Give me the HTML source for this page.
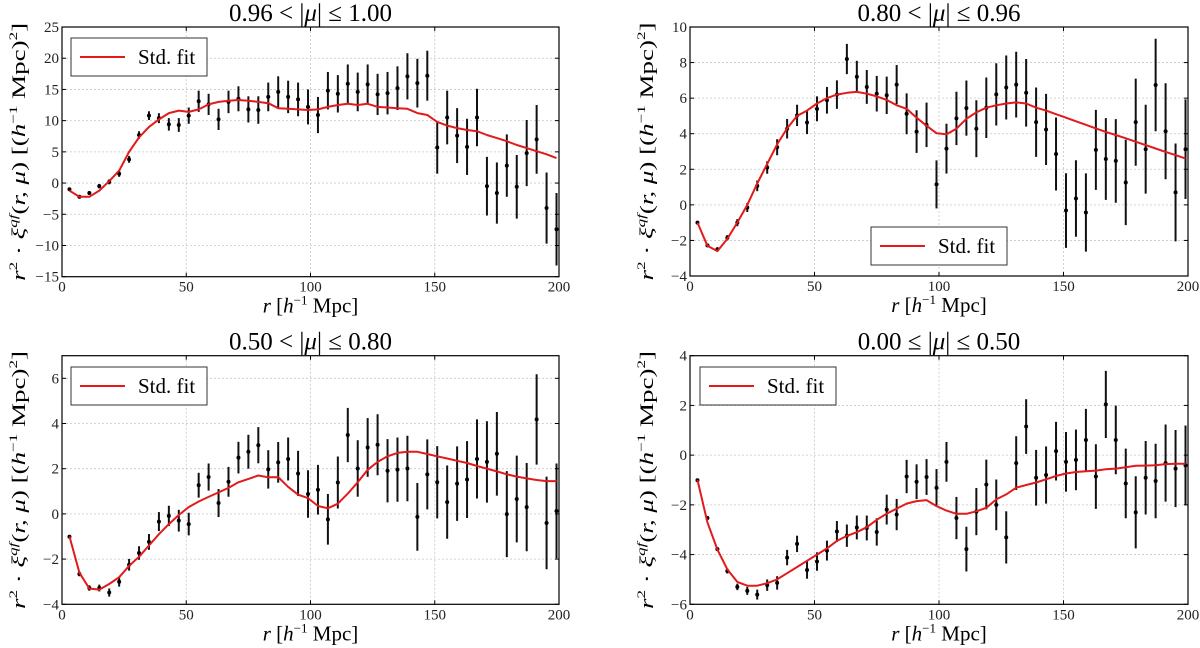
<!DOCTYPE html>
<html><head><meta charset="utf-8"><style>
html,body{margin:0;padding:0;background:#fff;}
svg{display:block;font-family:"Liberation Serif",serif;}
</style></head><body>
<svg id="fig" width="1200" height="648" viewBox="0 0 1200 648" xmlns="http://www.w3.org/2000/svg"></svg>
<script>
const rVals=[3,7,11,15,19,23,27,31,35,39,43,47,51,55,59,63,67,71,75,79,83,87,91,95,99,103,107,111,115,119,123,127,131,135,139,143,147,151,155,159,163,167,171,175,179,183,187,191,195,199];
const xTicks=[0,50,100,150,200];

const p1Data=[-1.0,-2.2,-1.6,-0.5,0.2,1.5,3.8,7.7,10.8,10.4,9.4,9.3,10.8,13.1,12.6,10.2,13.0,13.5,11.8,11.7,13.8,14.6,13.8,13.4,12.2,10.9,14.8,14.3,15.9,14.6,15.8,14.2,14.4,15.2,17.1,16.0,17.2,5.7,10.5,7.6,5.8,10.5,-0.5,-1.6,2.8,-0.6,4.8,7.0,-4.0,-7.4];
const p1Err=[0.2,0.3,0.3,0.35,0.4,0.5,0.55,0.6,0.7,0.8,1.0,1.1,1.3,1.7,1.7,1.7,1.8,2.0,2.1,2.2,2.3,2.5,2.6,2.7,2.8,2.9,3.0,3.0,3.1,3.1,3.2,3.3,3.4,3.5,3.7,3.9,4.0,4.2,4.3,4.4,4.5,4.6,4.7,4.9,5.0,5.1,5.3,5.5,5.7,5.8];
const p1Fit=[-1.2,-2.2,-2.2,-1.2,0.3,2.0,5.0,7.3,9.0,10.2,11.2,11.6,11.4,11.8,12.6,13.0,13.2,13.3,13.2,13.0,12.8,12.0,11.9,11.8,11.7,11.8,12.2,12.5,12.7,12.5,12.7,12.2,12.1,12.0,11.9,11.2,10.9,9.8,9.2,8.8,8.5,8.3,7.7,7.2,6.7,6.1,5.6,5.1,4.6,4.0];
const p1YTicks=[-15,-10,-5,0,5,10,15,20,25];

const p2Data=[-1.0,-2.28,-2.5,-1.85,-1.0,-0.15,1.07,2.1,3.24,4.28,5.03,4.63,5.4,5.88,6.2,8.2,7.2,6.63,6.25,6.16,6.76,5.12,4.12,4.5,1.15,3.16,4.86,5.44,4.28,5.46,6.21,6.6,6.76,6.3,4.65,4.24,2.86,-0.32,0.36,-0.43,3.09,2.58,2.47,1.26,4.65,3.13,6.74,4.14,0.7,3.13];
const p2Err=[0.1,0.1,0.12,0.15,0.2,0.25,0.3,0.35,0.45,0.55,0.6,0.65,0.7,0.75,0.8,0.85,0.9,0.95,1.0,1.05,1.1,1.15,1.2,1.25,1.35,1.4,1.5,1.55,1.6,1.7,1.75,1.8,1.85,1.9,1.95,2.0,2.05,2.1,2.15,2.2,2.25,2.3,2.35,2.4,2.45,2.5,2.6,2.7,2.75,2.8];
const p2Fit=[-1.0,-2.3,-2.6,-1.9,-1.0,0.0,1.2,2.3,3.4,4.3,5.0,5.3,5.7,6.0,6.2,6.3,6.35,6.25,6.1,5.9,5.6,5.4,4.9,4.45,4.03,3.97,4.28,4.84,5.2,5.46,5.6,5.7,5.76,5.7,5.46,5.3,5.1,4.9,4.7,4.5,4.3,4.1,3.93,3.74,3.55,3.36,3.17,2.98,2.8,2.6];
const p2YTicks=[-4,-2,0,2,4,6,8,10];

const p3Data=[-1.01,-2.66,-3.28,-3.28,-3.48,-3.0,-2.25,-1.73,-1.24,-0.34,-0.09,-0.3,-0.45,1.27,1.63,0.48,1.42,2.49,2.75,3.04,1.97,2.28,2.43,1.79,0.88,1.07,-0.24,1.39,3.49,2.01,2.94,3.06,1.91,1.96,2.01,-0.13,1.75,1.4,0.52,1.34,1.52,2.43,2.3,2.66,-0.01,0.66,0.3,4.18,-0.4,0.13];
const p3Err=[0.08,0.1,0.12,0.15,0.18,0.22,0.26,0.3,0.35,0.42,0.45,0.48,0.5,0.55,0.6,0.62,0.66,0.7,0.75,0.8,0.85,0.9,0.95,1.0,1.05,1.1,1.12,1.15,1.2,1.25,1.3,1.35,1.4,1.42,1.45,1.5,1.55,1.6,1.62,1.65,1.7,1.75,1.8,1.85,1.9,1.92,1.95,2.0,2.05,2.1];
const p3Fit=[-1.0,-2.6,-3.3,-3.35,-3.1,-2.8,-2.3,-1.9,-1.4,-0.9,-0.45,-0.05,0.3,0.55,0.75,0.95,1.15,1.4,1.55,1.7,1.62,1.63,1.2,0.85,0.7,0.35,0.25,0.45,0.9,1.4,1.95,2.3,2.55,2.7,2.75,2.75,2.65,2.55,2.45,2.35,2.25,2.12,2.0,1.88,1.75,1.65,1.57,1.5,1.45,1.45];
const p3YTicks=[-4,-2,0,2,4,6];

const p4Data=[-1.01,-2.53,-3.78,-4.66,-5.3,-5.46,-5.61,-5.23,-5.14,-4.12,-3.57,-4.62,-4.28,-3.84,-3.07,-3.24,-2.91,-2.93,-3.09,-2.19,-2.39,-0.86,-1.07,-0.88,-1.31,-0.27,-2.53,-3.78,-2.27,-1.18,-2.0,-3.31,-0.32,1.15,-0.91,-0.8,0.16,-0.27,-0.19,0.61,-0.86,2.04,0.61,-1.14,-2.3,-0.91,-1.04,-0.32,-0.54,-0.41];
const p4Err=[0.04,0.06,0.08,0.1,0.13,0.16,0.2,0.23,0.27,0.31,0.33,0.35,0.37,0.4,0.42,0.45,0.48,0.5,0.55,0.6,0.63,0.67,0.7,0.72,0.75,0.8,0.85,0.9,0.95,1.0,1.02,1.05,1.08,1.1,1.12,1.15,1.18,1.2,1.22,1.25,1.3,1.35,1.38,1.4,1.45,1.48,1.5,1.55,1.55,1.6];
const p4Fit=[-1.0,-2.7,-3.8,-4.6,-5.1,-5.25,-5.25,-5.15,-5.0,-4.75,-4.5,-4.25,-4.0,-3.75,-3.45,-3.25,-3.1,-2.9,-2.6,-2.35,-2.15,-1.95,-1.85,-1.81,-2.05,-2.23,-2.36,-2.36,-2.26,-2.12,-1.78,-1.58,-1.31,-1.2,-1.1,-0.97,-0.84,-0.74,-0.68,-0.65,-0.62,-0.57,-0.54,-0.49,-0.43,-0.42,-0.41,-0.36,-0.35,-0.35];
const p4YTicks=[-6,-4,-2,0,2,4];

const NS="http://www.w3.org/2000/svg";
const svg=document.getElementById('fig');
function mk(tag,attrs,parent){const e=document.createElementNS(NS,tag);for(const k in attrs)e.setAttribute(k,attrs[k]);(parent||svg).appendChild(e);return e;}

const panels=[
 {id:'p1',x0:62,x1:559,y0:27,y1:276.7,ymin:-15,ymax:25,yt:p1YTicks,data:p1Data,err:p1Err,fit:p1Fit,
  t1:'0.96 < |',t2:'| ≤ 1.00',lg:[71,38]},
 {id:'p2',x0:690,x1:1188,y0:27,y1:276,ymin:-4,ymax:10,yt:p2YTicks,data:p2Data,err:p2Err,fit:p2Fit,
  t1:'0.80 < |',t2:'| ≤ 0.96',lg:[871,227]},
 {id:'p3',x0:62,x1:559,y0:355.7,y1:604.3,ymin:-4,ymax:7,yt:p3YTicks,data:p3Data,err:p3Err,fit:p3Fit,
  t1:'0.50 < |',t2:'| ≤ 0.80',lg:[71,367]},
 {id:'p4',x0:690,x1:1188,y0:355.7,y1:604.3,ymin:-6,ymax:4,yt:p4YTicks,data:p4Data,err:p4Err,fit:p4Fit,
  t1:'0.00 ≤ |',t2:'| ≤ 0.50',lg:[700,367]}
];

panels.forEach((p,pi)=>{
  const g=mk('g',{});
  
  
  const sx=v=>p.x0+(v-0)/(200-0)*(p.x1-p.x0);
  const sy=v=>p.y1-(v-p.ymin)/(p.ymax-p.ymin)*(p.y1-p.y0);
  const cx=(p.x0+p.x1)/2, cy=(p.y0+p.y1)/2;
  xTicks.forEach(t=>{
    if(t>0&&t<200){const l=mk('line',{x1:sx(t),x2:sx(t),y1:p.y0,y2:p.y1,stroke:'#c8c8c8','stroke-width':0.8,'stroke-dasharray':'2,2'},g);
    }
  });
  p.yt.forEach(t=>{
    if(t>p.ymin&&t<p.ymax){const l=mk('line',{x1:p.x0,x2:p.x1,y1:sy(t),y2:sy(t),stroke:'#c8c8c8','stroke-width':0.8,'stroke-dasharray':'2,2'},g);
    }
  });
  rVals.forEach((r,i)=>{
    const v=p.data[i],e=p.err[i];
    const b=mk('line',{x1:sx(r),x2:sx(r),y1:sy(v-e),y2:sy(v+e),stroke:'#111','stroke-width':2},g);
    
    const c=mk('circle',{cx:sx(r),cy:sy(v),r:2,fill:'#000'},g);
    
  });
  const pts=rVals.map((r,i)=>sx(r).toFixed(1)+','+sy(p.fit[i]).toFixed(1)).join(' ');
  const fl=mk('polyline',{points:pts,fill:'none',stroke:'#e31a1c','stroke-width':2,'stroke-linejoin':'round'},g);
  
  const fr=mk('rect',{x:p.x0,y:p.y0,width:p.x1-p.x0,height:p.y1-p.y0,fill:'none',stroke:'#000','stroke-width':1.2},g);
  
  xTicks.forEach(t=>{
    mk('line',{x1:sx(t),x2:sx(t),y1:p.y1,y2:p.y1-4,stroke:'#000','stroke-width':1},g);
    mk('line',{x1:sx(t),x2:sx(t),y1:p.y0,y2:p.y0+4,stroke:'#000','stroke-width':1},g);
    const tx=mk('text',{x:sx(t),y:p.y1+15,'font-size':15,'text-anchor':'middle',fill:'#222'},g);
    tx.textContent=t;
    
  });
  p.yt.forEach(t=>{
    mk('line',{x1:p.x0,x2:p.x0+4,y1:sy(t),y2:sy(t),stroke:'#000','stroke-width':1},g);
    mk('line',{x1:p.x1,x2:p.x1-4,y1:sy(t),y2:sy(t),stroke:'#000','stroke-width':1},g);
    const tx=mk('text',{x:p.x0-3,y:sy(t)+5,'font-size':15,'text-anchor':'end',fill:'#222'},g);
    tx.textContent=(t<0?'\u2212'+Math.abs(t):t);
    
  });
  const ti=mk('text',{x:cx,y:p.y0-6,'font-size':25,'text-anchor':'middle',fill:'#000'},g);
  
  ti.innerHTML=p.t1+'<tspan font-style="italic">μ</tspan>'+p.t2;
  const xl=mk('text',{x:cx,y:p.y1+36,'font-size':21,'text-anchor':'middle',fill:'#000'},g);
  
  xl.innerHTML='<tspan font-style="italic">r</tspan> [<tspan font-style="italic">h</tspan><tspan font-size="13" dy="-8">−1</tspan><tspan dy="8"> Mpc]</tspan>';
  const yl=mk('text',{x:0,y:0,'font-size':19,'text-anchor':'middle',fill:'#000',transform:`translate(${p.x0-37},${cy}) rotate(-90)`,textLength:258,lengthAdjust:'spacingAndGlyphs'},g);
  
  yl.innerHTML='<tspan font-style="italic">r</tspan><tspan font-size="12" dy="-8">2</tspan><tspan dy="8"> · </tspan><tspan font-style="italic">ξ</tspan><tspan font-size="12" font-style="italic" dy="-8">qf</tspan><tspan dy="8">(</tspan><tspan font-style="italic">r, μ</tspan>) [(<tspan font-style="italic">h</tspan><tspan font-size="12" dy="-8">−1</tspan><tspan dy="8"> Mpc)</tspan><tspan font-size="12" dy="-8">2</tspan><tspan dy="8">]</tspan>';
  const lg=mk('g',{},g);
  
  const [lx,ly]=p.lg;
  mk('rect',{x:lx,y:ly,width:136,height:38,fill:'#fff',stroke:'#333','stroke-width':1},lg);
  mk('line',{x1:lx+9,x2:lx+54,y1:ly+19,y2:ly+19,stroke:'#e31a1c','stroke-width':2},lg);
  const lt=mk('text',{x:lx+67,y:ly+26,'font-size':21,fill:'#000'},lg);
  lt.textContent='Std. fit';
  
});
</script>
</body></html>
